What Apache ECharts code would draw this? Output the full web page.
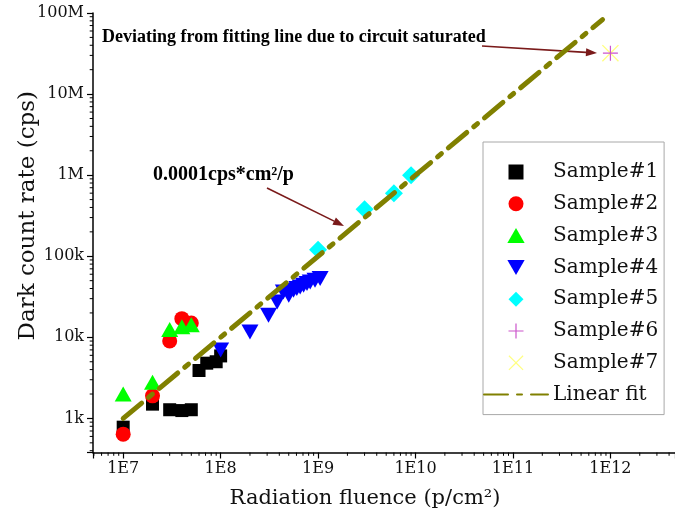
<!DOCTYPE html>
<html><head><meta charset="utf-8">
<script src="https://cdn.jsdelivr.net/npm/echarts@6/dist/echarts.min.js"></script>
<style>html,body{margin:0;padding:0;background:#fff}#c{width:675px;height:521px}</style>
</head><body><div id="c"></div>
<script>
// ---- data ----
const s1x = [1e7, 2e7, 3e7, 4e7, 5e7, 6e7, 7.2e7, 9e7, 1e8];
const s1y = [780, 1500, 1280, 1250, 1280, 3900, 4800, 5000, 5900];
const s2x = [1e7, 2e7, 3e7, 4e7, 5e7];
const s2y = [640, 1900, 9000, 17000, 15000];
const s3x = [1e7, 2e7, 3e7, 4e7, 5e7];
const s3y = [2000, 2800, 12500, 13500, 14300];
const s4x = [1e8, 2e8, 3.1e8, 3.8e8, 4.4e8, 5e8, 5.6e8, 6.05e8, 6.55e8, 7.1e8, 7.7e8, 8.3e8, 9.3e8, 1.05e9];
const s4y = [7000, 11600, 18700, 27300, 36200, 33000, 38000, 39900, 41800, 43800, 46000, 48200, 50600, 53000];
const s5x = [1e9, 3e9, 6e9, 9e9];
const s5y = [120000, 380000, 600000, 1000000];
const s6x = [1e12];
const s6y = [3.2e7];
const s7x = [1e12];
const s7y = [3.2e7];
const fitX = [1e7, 8.3e11];
const fitY = [1e3, 8.3e7];
const seriesNames = ['Sample#1','Sample#2','Sample#3','Sample#4','Sample#5','Sample#6','Sample#7','Linear fit'];
const xTickLabels = {7:'1E7', 8:'1E8', 9:'1E9', 10:'1E10', 11:'1E11', 12:'1E12'};
const yTickLabels = {3:'1k', 4:'10k', 5:'100k', 6:'1M', 7:'10M', 8:'100M'};
const xMin = 4.9e6, xMax = 4.6e12, yMin = 380, yMax = 1e8;

// ---- helpers ----
const zip = (xs, ys) => xs.map((x, i) => [x, ys[i]]);
const decade = v => { const e = Math.log10(v); return Math.abs(e - Math.round(e)) < 1e-6 ? Math.round(e) : null; };
const minorTicks = [];
for (let k = 6; k <= 12; k++) for (let m = 2; m <= 9; m++) { const v = m * Math.pow(10, k); if (v > xMin && v < xMax) minorTicks.push([v, yMin, 0]); }
for (let k = 2; k <= 7; k++) for (let m = 2; m <= 9; m++) { const v = m * Math.pow(10, k); if (v > yMin && v < yMax) minorTicks.push([xMin, v, 1]); }

const FONT = 'DejaVu Serif';
const SYM = {
  rect: 'path://M0,0H10V10H0Z',
  circle: 'path://M10,5A5,5,0,1,1,0,5A5,5,0,1,1,10,5Z',
  up: 'path://M6,0L12,10.4H0Z',
  down: 'path://M0,0H12L6,10.4Z',
  diamond: 'path://M5,0L10,5L5,10L0,5Z',
  plus: 'path://M9.2,0h1.6v20h-1.6zM0,9.2h20v1.6h-20z',
  cross: 'path://M1.1,0L10,8.9L18.9,0L20,1.1L11.1,10L20,18.9L18.9,20L10,11.1L1.1,20L0,18.9L8.9,10L0,1.1Z'
};

const chart = echarts.init(document.getElementById('c'), null, {renderer: 'canvas'});
const sc = (name, xs, ys, symbol, size, color, extra) => Object.assign({
  name, type: 'scatter', data: zip(xs, ys), symbol, symbolSize: size,
  itemStyle: {color, opacity: 1}, emphasis: {disabled: true}
}, extra || {});

function arrow(x1, y1, x2, y2) {
  const a = Math.atan2(y2 - y1, x2 - x1), L = 11, W = 4;
  const bx = x2 - L * Math.cos(a), by = y2 - L * Math.sin(a);
  return [
    {type: 'line', shape: {x1, y1, x2: bx, y2: by}, style: {stroke: '#7a1a1a', lineWidth: 1.6}},
    {type: 'polygon', shape: {points: [[x2, y2], [bx - W * Math.sin(a), by + W * Math.cos(a)], [bx + W * Math.sin(a), by - W * Math.cos(a)]]}, style: {fill: '#7a1a1a'}}
  ];
}

chart.setOption({
  animation: false,
  backgroundColor: '#fff',
  grid: {left: 93, right: 0, top: 13, bottom: 68.5, containLabel: false, outerBoundsMode: 'none'},
  xAxis: {
    type: 'log', logBase: 10, min: xMin, max: xMax,
    name: 'Radiation fluence (p/cm²)', nameLocation: 'middle', nameGap: 36, nameMoveOverlap: false,
    nameTextStyle: {fontFamily: FONT, fontSize: 21, color: '#111', padding: [0, 38, 0, 0]},
    axisLine: {show: true, lineStyle: {color: '#000', width: 1.5}},
    axisTick: {show: true, inside: false, length: 6, lineStyle: {color: '#000', width: 1.2}},
    axisLabel: {fontFamily: FONT, fontSize: 16, color: '#111', margin: 8,
      formatter: v => { const d = decade(v); return d !== null && xTickLabels[d] ? xTickLabels[d] : ''; }},
    splitLine: {show: false}, minorTick: {show: false}
  },
  yAxis: {
    type: 'log', logBase: 10, min: yMin, max: yMax,
    name: 'Dark count rate (cps)', nameLocation: 'middle', nameGap: 53, nameMoveOverlap: false,
    nameTextStyle: {fontFamily: FONT, fontSize: 23, color: '#111', padding: [0, 0, 0, 34]},
    axisLine: {show: true, lineStyle: {color: '#000', width: 1.5}},
    axisTick: {show: true, inside: false, length: 6, lineStyle: {color: '#000', width: 1.2}},
    axisLabel: {fontFamily: FONT, fontSize: 16, color: '#111', margin: 9,
      formatter: v => { const d = decade(v); return d !== null && yTickLabels[d] ? yTickLabels[d] : ''; }},
    splitLine: {show: false}, minorTick: {show: false}
  },
  legend: {
    data: seriesNames.map(n => n === 'Linear fit' ? {name: n, itemStyle: {color: 'rgba(0,0,0,0)', borderWidth: 0}} : n),
    orient: 'vertical', left: 483, top: 142,
    padding: [20, 6, 10, 0], itemWidth: 64, itemHeight: 15, itemGap: 11.8,
    symbolKeepAspect: true,
    borderColor: '#a8a8a8', borderWidth: 1, backgroundColor: '#fff',
    textStyle: {fontFamily: FONT, fontSize: 20, color: '#111', lineHeight: 20},
    selectedMode: false
  },
  series: [
    {type: 'custom', name: 'ticks', silent: true, data: minorTicks, encode: {x: 0, y: 1}, clip: false, z: 1,
      renderItem: (params, api) => {
        const p = api.coord([api.value(0), api.value(1)]);
        const horiz = api.value(2) === 1;
        return {type: 'line', shape: horiz ? {x1: p[0], y1: p[1], x2: p[0] - 3.3, y2: p[1]} : {x1: p[0], y1: p[1], x2: p[0], y2: p[1] + 3.3},
          style: {stroke: '#000', lineWidth: 1}};
      }},
    sc('Sample#1', s1x, s1y, SYM.rect, 13, '#000000'),
    sc('Sample#2', s2x, s2y, SYM.circle, 15, '#ff0000'),
    sc('Sample#3', s3x, s3y, SYM.up, [17, 15], '#00ff00'),
    sc('Sample#4', s4x, s4y, SYM.down, [17, 15], '#0000ff'),
    sc('Sample#5', s5x, s5y, SYM.diamond, 18, '#00ffff'),
    sc('Sample#7', s7x, s7y, SYM.cross, 17, '#ffff80'),
    sc('Sample#6', s6x, s6y, SYM.plus, 15, '#cc55cc', {z: 3}),
    {name: 'Linear fit', type: 'line', data: zip(fitX, fitY), symbol: 'none', z: 4,
      lineStyle: {color: '#808000', width: 5, type: [24, 9, 5, 9], cap: 'round'},
      itemStyle: {color: '#808000'}, emphasis: {disabled: true}}
  ],
  graphic: [
    {type: 'text', left: 102, top: 28, style: {text: 'Deviating from fitting line due to circuit saturated', font: 'bold 18px "Liberation Serif"', fill: '#000'}},
    {type: 'text', left: 153, top: 165, style: {text: '0.0001cps*cm²/p', font: 'bold 20px "Liberation Serif"', fill: '#000'}},
    ...arrow(482, 46, 597, 53),
    ...arrow(267, 188, 344, 226)
  ]
});
</script></body></html>
